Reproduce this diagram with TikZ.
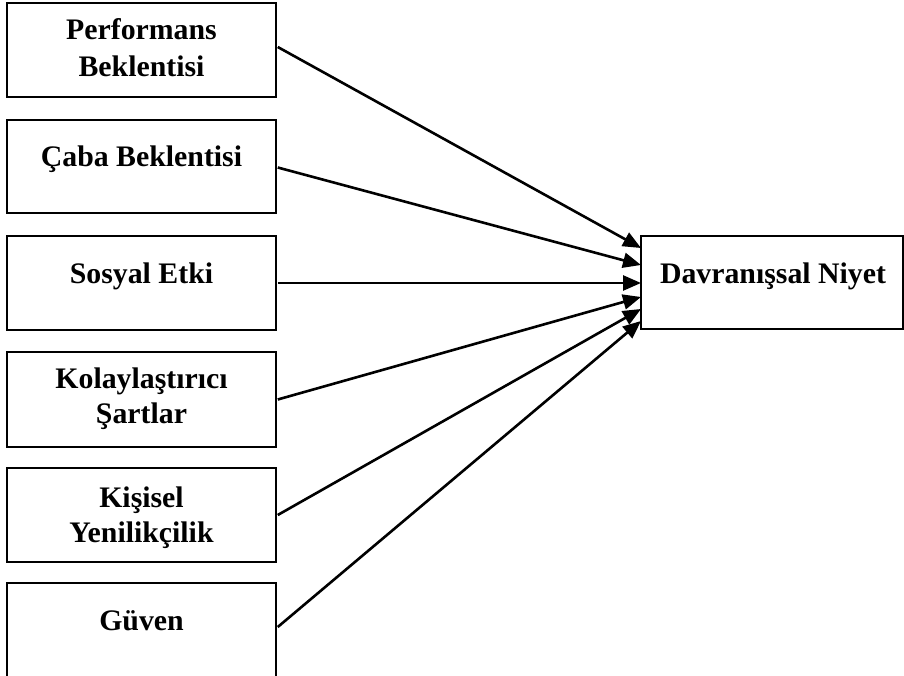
\documentclass[tikz,border=0pt]{standalone}
\usepackage{fontspec}
\setmainfont{Liberation Serif}
\usetikzlibrary{arrows.meta,calc}
\begin{document}
\begin{tikzpicture}[x=1pt,y=-1pt,
  box/.style={draw=black,line width=1.5pt,minimum width=269pt,minimum height=94pt,inner sep=0pt},
  rbox/.style={draw=black,line width=1.5pt,minimum width=262pt,minimum height=93pt,inner sep=0pt},
  lbl/.style={anchor=base,font=\fontsize{29.8}{35}\selectfont\bfseries,inner sep=0pt},
  conn/.style={line width=2.6pt,-{Triangle[length=18pt,width=15pt]}}]
\useasboundingbox (0,0) rectangle (904,676);
% left boxes
\node[box] (b1) at (141.5,50) {};
\node[box,minimum height=93pt] (b2) at (141.5,166.5) {};
\node[box] (b3) at (141.5,283) {};
\node[box,minimum height=95pt] (b4) at (141.5,399.5) {};
\node[box] (b5) at (141.5,515) {};
\node[box] (b6) at (141.5,630) {};
% right box
\node[rbox] (r) at (772,282.5) {};
% labels
\node[lbl] (t1a) at (141.5,40) {Performans};
\node[lbl] (t1b) at (141.5,77) {Beklentisi};
\node[lbl] (t2) at (141.5,167) {Çaba Beklentisi};
\node[lbl] (t3) at (141.5,283) {Sosyal Etki};
\node[lbl] (t4a) at (141.5,388) {Kolaylaştırıcı};
\node[lbl] (t4b) at (141.5,423) {Şartlar};
\node[lbl] (t5a) at (141.5,507) {Kişisel};
\node[lbl] (t5b) at (141.5,542) {Yenilikçilik};
\node[lbl] (t6) at (141.5,630) {Güven};
\node[lbl] (tr) at (773,283) {Davranışsal Niyet};
% connector ends
\coordinate (s1) at ($(b1.east)+(1,-3)$);
\coordinate (s2) at ($(b2.east)+(1,1)$);
\coordinate (s3) at ($(b3.east)+(1,0)$);
\coordinate (s4) at ($(b4.east)+(1,0)$);
\coordinate (s5) at ($(b5.east)+(1,0)$);
\coordinate (s6) at ($(b6.east)+(1,-3)$);
\coordinate (e1) at (641,248);
\coordinate (e2) at (641,265);
\coordinate (e3) at (641,283);
\coordinate (e4) at (641,297);
\coordinate (e5) at (641,309);
\coordinate (e6) at (641,321);
\foreach \i in {1,...,6} \draw[conn] (s\i) -- (e\i);
\end{tikzpicture}
\end{document}
